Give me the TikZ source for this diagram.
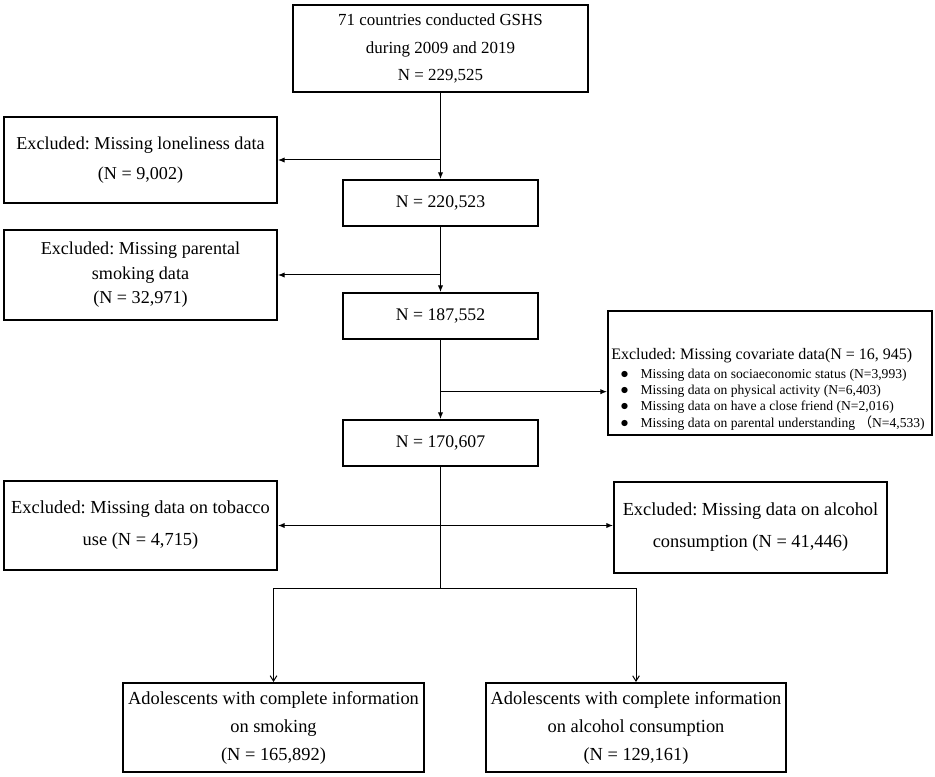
\documentclass[tikz,border=0pt]{standalone}
\usepackage{fontspec}
\setmainfont{Liberation Serif}
\newfontfamily\cjk{Noto Sans CJK SC}
\usetikzlibrary{arrows.meta, positioning}
\frenchspacing
\newcommand{\dotmark}{\hspace*{7pt}{\fontsize{12}{10}\selectfont$\bullet$}}

\begin{document}
\begin{tikzpicture}[x=0.75pt, y=-0.75pt,
  box/.style={draw, line width=1.5pt, align=center, inner sep=2pt,
    font=\fontsize{13.8}{24}\selectfont},
  midbox/.style={box, minimum width=146.25pt, minimum height=34.5pt,
    font=\fontsize{13.3}{16}\selectfont},
  arr/.style={line width=0.75pt, -{Latex[length=5pt, width=4pt]}},
  barb/.style={line width=0.75pt, -{Straight Barb[length=4pt, width=5pt]}},
  link/.style={line width=0.75pt}]
\useasboundingbox (0,0) rectangle (935,777);

\node[box, minimum width=221.25pt, minimum height=65.25pt,
  font=\fontsize{12.7}{20.6}\selectfont] (top) at (440.5,48.5)
  {71 countries conducted GSHS\\during 2009 and 2019\\N = 229,525};
\node[box, minimum width=204.75pt, minimum height=64.5pt,
  font=\fontsize{13.6}{23}\selectfont] (lonely) at (140.5,160)
  {Excluded: Missing loneliness data\\(N = 9,002)};
\node[midbox] (n2) at (440.5,203) {N = 220,523};
\node[box, minimum width=204.75pt, minimum height=67.5pt,
  font=\fontsize{13.6}{18.4}\selectfont] (parent) at (140.5,275)
  {Excluded: Missing parental\\smoking data\\(N = 32,971)};
\node[midbox] (n3) at (440.5,316) {N = 187,552};
\node[draw, line width=1.5pt, minimum width=243pt, minimum height=93pt] (covar) at (770,373) {};
\node[anchor=west, inner sep=0pt, align=left] (covarlist) at (611,390.5)
  {{\fontsize{12}{13}\selectfont Excluded: Missing covariate data(N = 16, 945)}\\[1.5pt]
   \fontsize{10.2}{12.2}\selectfont
   \begin{tabular}{@{}l@{\hspace{9pt}}l@{}}
   \dotmark & Missing data on sociaeconomic status (N=3,993)\\
   \dotmark & Missing data on physical activity (N=6,403)\\
   \dotmark & Missing data on have a close friend (N=2,016)\\
   \dotmark & Missing data on parental understanding {\cjk （}N=4,533)
   \end{tabular}};
\node[midbox] (n4) at (440.5,443) {N = 170,607};
\node[box, minimum width=204.75pt, minimum height=66.75pt] (tobacco) at (140.5,525.5)
  {Excluded: Missing data on tobacco\\use (N = 4,715)};
\node[box, minimum width=204.75pt, minimum height=68.25pt] (alcohol) at (750.5,527.5)
  {Excluded: Missing data on alcohol\\consumption (N = 41,446)};
\node[box, minimum width=225.75pt, minimum height=66.75pt,
  font=\fontsize{13.8}{21}\selectfont] (smoke) at (273.5,727.5)
  {Adolescents with complete information\\on smoking\\(N = 165,892)};
\node[box, minimum width=225pt, minimum height=66.75pt,
  font=\fontsize{13.8}{21}\selectfont] (drink) at (636,727.5)
  {Adolescents with complete information\\on alcohol consumption\\(N = 129,161)};

\coordinate (split) at (440.5,588);

\draw[arr] (top) -- (n2);
\draw[arr] (lonely.east -| top.south) -- (lonely.east);
\draw[arr] (n2) -- (n3);
\draw[arr] (parent.east -| n2.south) -- (parent.east);
\draw[arr] (n3) -- (n4);
\draw[arr] ([yshift=-14pt]covar.west -| n3.south) -- ([yshift=-14pt]covar.west);
\draw[link] (n4.south) -- (split);
\draw[arr] (tobacco.east -| n4.south) -- (tobacco.east);
\draw[arr] (tobacco.east -| n4.south) -- (alcohol.west |- tobacco.east);
\draw[link] (split -| smoke.north) -- (split -| drink.north);
\draw[barb] (split -| smoke.north) -- (smoke.north);
\draw[barb] (split -| drink.north) -- (drink.north);

\end{tikzpicture}
\end{document}
